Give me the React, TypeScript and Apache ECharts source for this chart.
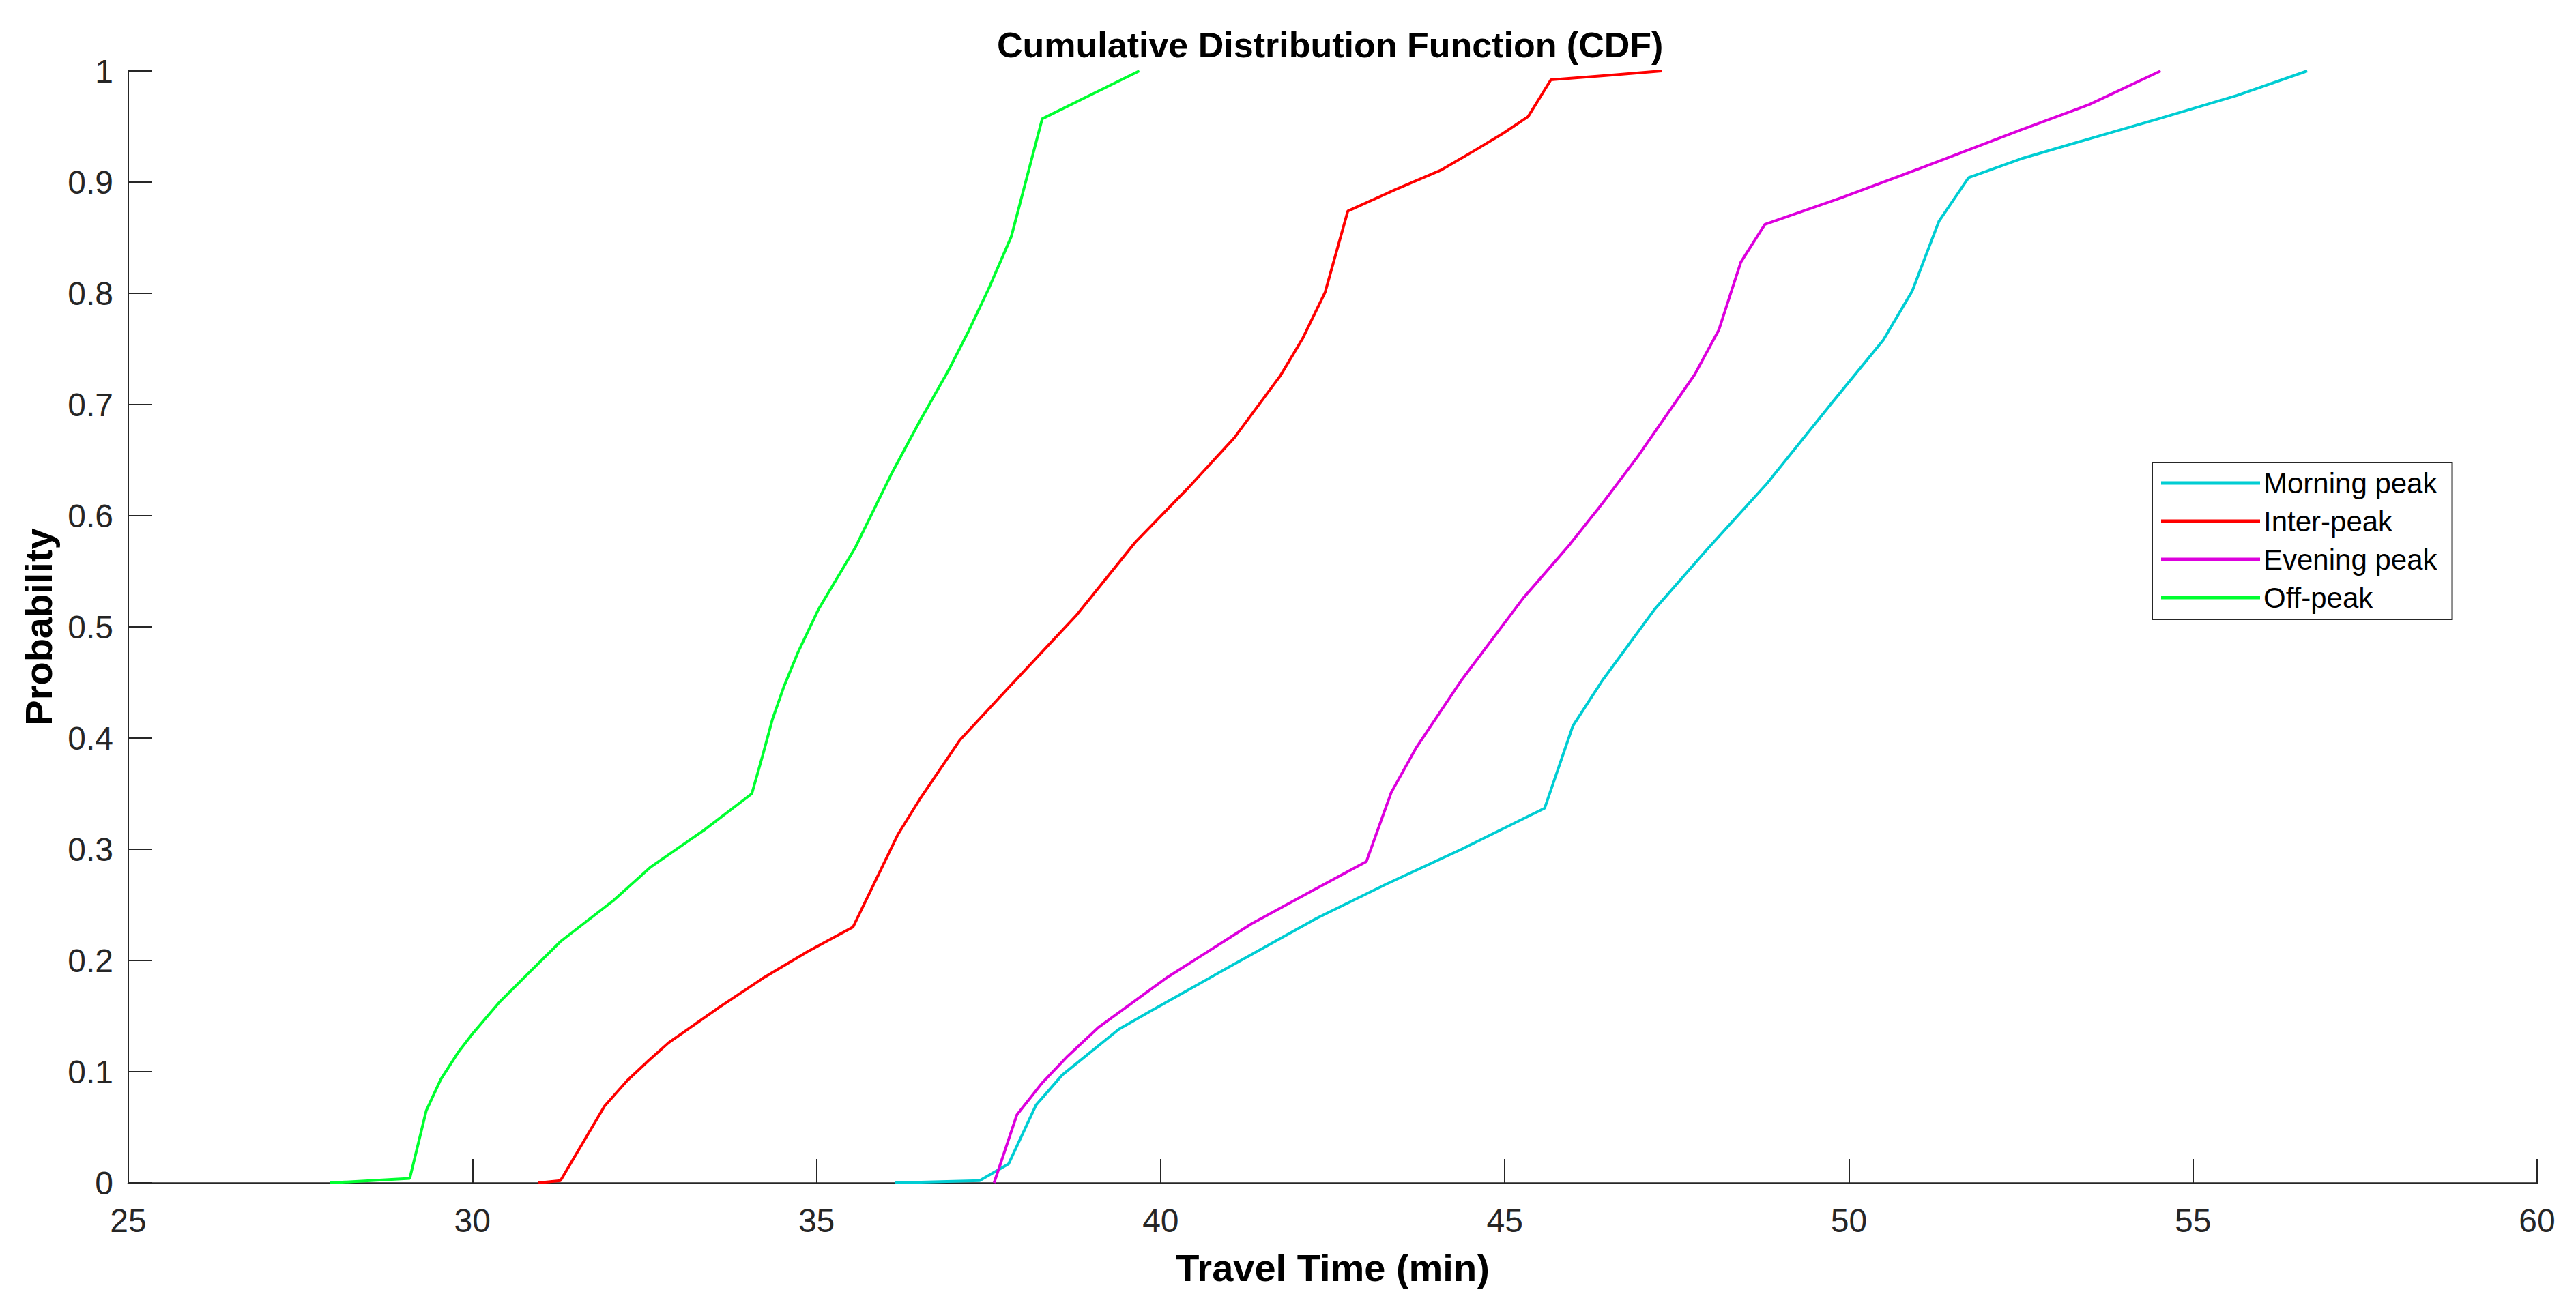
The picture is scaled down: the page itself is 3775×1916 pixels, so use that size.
import React, { useEffect, useRef } from "react";
import * as echarts from "echarts";

const seriesNames = ["Morning peak", "Inter-peak", "Evening peak", "Off-peak"];
const seriesColors = ["#00CDD3", "#FF0000", "#DD00DD", "#00FF30"];

const xTicks = [25, 30, 35, 40, 45, 50, 55, 60];
const yTicks = [0, 0.1, 0.2, 0.3, 0.4, 0.5, 0.6, 0.7, 0.8, 0.9, 1];

const morningPeak: [number, number][] = [
  [36.14, 0], [37.37, 0.002], [37.79, 0.017], [38.19, 0.07], [38.57, 0.097],
  [39.39, 0.138], [39.84, 0.154], [40.99, 0.194], [42.27, 0.238], [43.29, 0.269],
  [44.37, 0.3], [45.58, 0.337], [45.99, 0.411], [46.42, 0.452], [47.18, 0.516],
  [47.93, 0.569], [48.81, 0.629], [49.72, 0.699], [50.5, 0.758], [50.92, 0.802],
  [51.31, 0.865], [51.74, 0.904], [52.5, 0.921], [53.55, 0.94], [54.5, 0.957],
  [55.64, 0.978], [56.66, 1.0],
];

const interPeak: [number, number][] = [
  [30.96, 0], [31.28, 0.002], [31.92, 0.069], [32.25, 0.092], [32.56, 0.11],
  [32.85, 0.126], [33.59, 0.158], [34.22, 0.184], [34.87, 0.208], [35.53, 0.23],
  [36.18, 0.313], [36.51, 0.346], [37.08, 0.398], [37.83, 0.448], [38.77, 0.51],
  [39.63, 0.576], [40.4, 0.625], [41.07, 0.67], [41.74, 0.726], [42.06, 0.759],
  [42.39, 0.801], [42.72, 0.874], [43.4, 0.893], [44.08, 0.911], [44.55, 0.928],
  [44.98, 0.944], [45.34, 0.959], [45.67, 0.992], [46.5, 0.996], [47.28, 1.0],
];

const eveningPeak: [number, number][] = [
  [37.58, 0], [37.91, 0.061], [38.28, 0.09], [38.65, 0.114], [39.1, 0.14],
  [39.59, 0.162], [40.1, 0.185], [40.66, 0.207], [41.32, 0.233], [42.18, 0.262],
  [42.99, 0.289], [43.35, 0.351], [43.71, 0.391], [44.37, 0.452], [45.27, 0.526],
  [45.93, 0.573], [46.43, 0.612], [46.93, 0.653], [47.76, 0.727], [48.11, 0.767],
  [48.43, 0.828], [48.78, 0.862], [49.89, 0.886], [51.02, 0.912], [52.5, 0.947],
  [53.5, 0.97], [54.53, 1.0],
];

const offPeak: [number, number][] = [
  [27.93, 0], [29.09, 0.004], [29.33, 0.065], [29.54, 0.093], [29.8, 0.118],
  [30.0, 0.134], [30.4, 0.163], [30.79, 0.187], [31.28, 0.217], [32.05, 0.254],
  [32.59, 0.284], [33.36, 0.317], [34.06, 0.35], [34.22, 0.385], [34.36, 0.417],
  [34.53, 0.447], [34.73, 0.477], [35.03, 0.516], [35.56, 0.571], [36.1, 0.639],
  [36.5, 0.685], [36.92, 0.731], [37.21, 0.766], [37.5, 0.804], [37.83, 0.851],
  [38.28, 0.957], [39.0, 0.979], [39.69, 1.0],
];

const seriesData = [morningPeak, interPeak, eveningPeak, offPeak];

const FONT = "'Liberation Sans', Arial, Helvetica, sans-serif";
const AXIS_COLOR = "#262626";

export default function App() {
  const ref = useRef<HTMLDivElement>(null);

  useEffect(() => {
    if (!ref.current) return;
    const chart = echarts.init(ref.current, null, { renderer: "svg" });
    const option: any = {
      animation: false,
      backgroundColor: "#ffffff",
      textStyle: { fontFamily: FONT },
      title: {
        text: "Cumulative Distribution Function (CDF)",
        left: 1461,
        top: 40,
        padding: 0,
        textStyle: { fontFamily: FONT, fontSize: 52, fontWeight: "bold", color: "#000" },
      },
      grid: { left: 188, right: 57, top: 104, bottom: 182, containLabel: false },
      legend: {
        orient: "vertical",
        left: 3154,
        top: 678,
        padding: [6, 22, 8, 13],
        itemWidth: 145,
        itemHeight: 5,
        itemGap: 8,
        icon: "rect",
        borderColor: AXIS_COLOR,
        borderWidth: 2,
        backgroundColor: "#fff",
        data: seriesNames,
        textStyle: { fontFamily: FONT, fontSize: 42, color: "#000", lineHeight: 48 },
      },
      xAxis: {
        type: "value",
        min: xTicks[0],
        max: xTicks[xTicks.length - 1],
        interval: 5,
        name: "Travel Time (min)",
        nameLocation: "middle",
        nameGap: 96,
        nameTextStyle: { fontFamily: FONT, fontSize: 56, fontWeight: "bold", color: "#000" },
        axisLine: { show: true, onZero: false, lineStyle: { color: AXIS_COLOR, width: 2.5 } },
        axisTick: { show: true, inside: true, length: 35, lineStyle: { color: AXIS_COLOR, width: 2 } },
        axisLabel: { fontFamily: FONT, fontSize: 48, color: AXIS_COLOR, margin: 31 },
        splitLine: { show: false },
      },
      yAxis: {
        type: "value",
        min: yTicks[0],
        max: yTicks[yTicks.length - 1],
        interval: 0.1,
        name: "Probability",
        nameLocation: "middle",
        nameGap: 104,
        nameRotate: 90,
        nameTextStyle: { fontFamily: FONT, fontSize: 56, fontWeight: "bold", color: "#000" },
        axisLine: { show: true, onZero: false, lineStyle: { color: AXIS_COLOR, width: 2 } },
        axisTick: { show: true, inside: true, length: 35, lineStyle: { color: AXIS_COLOR, width: 2 } },
        axisLabel: {
          fontFamily: FONT,
          fontSize: 48,
          color: AXIS_COLOR,
          margin: 22,
          formatter: (v: number) => String(Math.round(v * 10) / 10),
        },
        splitLine: { show: false },
      },
      series: seriesNames.map((name, i) => ({
        name,
        type: "line",
        data: seriesData[i],
        showSymbol: false,
        symbol: "none",
        smooth: false,
        lineStyle: { color: seriesColors[i], width: 4 },
        itemStyle: { color: seriesColors[i] },
        z: 2 + i,
      })),
    };
    chart.setOption(option);
    return () => {
      chart.dispose();
    };
  }, []);

  return (
    <div
      ref={ref}
      style={{ position: "fixed", left: 0, top: 0, width: 3775, height: 1916, background: "#fff" }}
    />
  );
}
